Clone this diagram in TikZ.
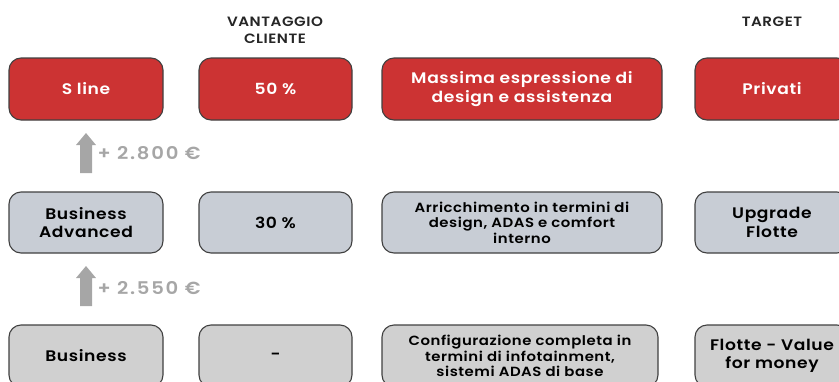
\documentclass[tikz,border=0pt]{standalone}
\usepackage{fontspec}
\setmainfont{Poppins}[BoldFont={* SemiBold},FakeStretch=1.12,LetterSpace=4]
\definecolor{audired}{HTML}{CC3333}
\definecolor{advblue}{HTML}{C8CDD5}
\definecolor{basegrey}{HTML}{D0D0D0}
\definecolor{edgegrey}{HTML}{404040}
\definecolor{arrowgrey}{HTML}{A6A6A6}

\begin{document}
\begin{tikzpicture}[x=1pt,y=-1pt,
  box/.style={draw=edgegrey,line width=1.1pt,rounded corners=12pt,minimum height=62pt,align=center,font=\bfseries\fontsize{15.3}{18.5}\selectfont},
  redbox/.style={box,fill=audired,text=white},
  bluebox/.style={box,fill=advblue,text=black},
  greybox/.style={box,fill=basegrey,text=black},
  small/.style={font=\bfseries\fontsize{13.3}{15.5}\selectfont},
  head/.style={font=\bfseries\fontsize{13.5}{17}\selectfont,align=center,text=black!85},
  price/.style={font=\bfseries\fontsize{17.5}{18}\selectfont\addfontfeatures{LetterSpace=10},text=arrowgrey,anchor=west}]
\useasboundingbox (0,0) rectangle (839,381);
\clip (0,0) rectangle (839,381);

\node[head] (hvant) at (275,30) {VANTAGGIO\\CLIENTE};
\node[head] (htarget) at (772,22) {TARGET};

\node[redbox,minimum width=154pt] (sline) at (86,89) {S line};
\node[redbox,minimum width=153pt] (vant1) at (275.5,89) {50 \%};
\node[redbox,minimum width=280pt] (desc1) at (522,89) {Massima espressione di\\design e assistenza};
\node[redbox,minimum width=154pt] (target1) at (772,89) {Privati};

\node[bluebox,minimum width=154pt,minimum height=61pt] (advanced) at (86,222.5) {Business\\Advanced};
\node[bluebox,minimum width=153pt,minimum height=61pt] (vant2) at (275.5,222.5) {30 \%};
\node[bluebox,small,minimum width=280pt,minimum height=61pt] (desc2) at (522,222.5) {Arricchimento in termini di\\design, ADAS e comfort\\interno};
\node[bluebox,minimum width=154pt,minimum height=61pt] (target2) at (772,222.5) {Upgrade\\Flotte};

\node[greybox,minimum width=154pt] (business) at (86,356) {Business};
\node[greybox,minimum width=153pt] (vant3) at (275.5,356) {-};
\node[greybox,small,minimum width=276pt] (desc3) at (520,356) {Configurazione completa in\\termini di infotainment,\\sistemi ADAS di base};
\node[greybox,minimum width=154pt] (target3) at (772,356) {Flotte - Value\\for money};

% price steps
\fill[arrowgrey] (80,173) -- (80,145) -- (76,145) -- (86,133) -- (96,145) -- (92,145) -- (92,173) -- cycle;
\node[price] (step1) at (94,153) {+ 2.800 €};
\fill[arrowgrey] (80,306) -- (80,278) -- (76,278) -- (86,266) -- (96,278) -- (92,278) -- (92,306) -- cycle;
\node[price] (step2) at (94,288) {+ 2.550 €};
\end{tikzpicture}
\end{document}
